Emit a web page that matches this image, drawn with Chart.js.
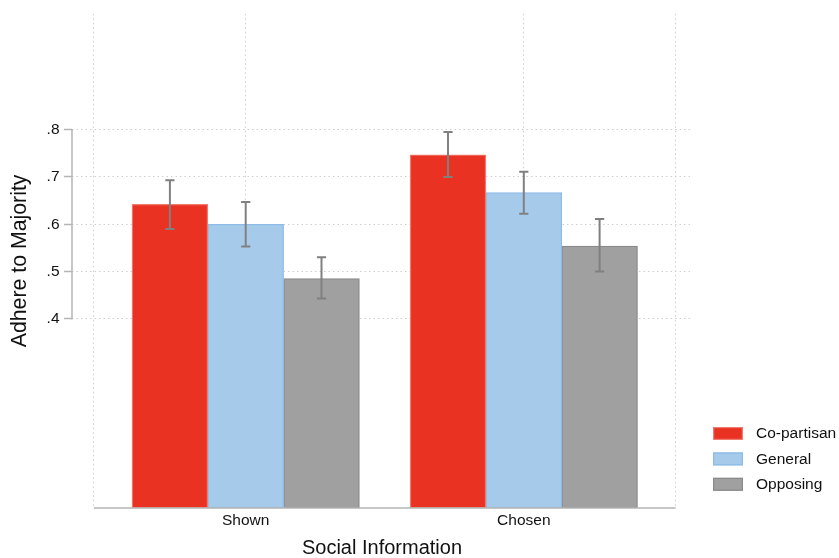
<!DOCTYPE html>
<html>
<head>
<meta charset="utf-8">
<script src="https://cdn.jsdelivr.net/npm/chart.js@4.4.1/dist/chart.umd.min.js"></script>
<style>
  html, body { margin: 0; padding: 0; background: #ffffff; }
  canvas { display: block; }
</style>
</head>
<body>
<canvas id="chart" width="839" height="558"></canvas>
<script>
// Share adhering to the majority, by social information source and type
const categories = ['Shown', 'Chosen'];
const seriesNames = ['Co-partisan', 'General', 'Opposing'];

const coPartisan = [0.642, 0.747];
const general    = [0.600, 0.667];
const opposing   = [0.485, 0.554];

// 95% confidence intervals
const coPartisanLow  = [0.590, 0.700];
const coPartisanHigh = [0.693, 0.795];
const generalLow     = [0.553, 0.622];
const generalHigh    = [0.647, 0.711];
const opposingLow    = [0.443, 0.500];
const opposingHigh   = [0.530, 0.611];

const yTicks = [0.4, 0.5, 0.6, 0.7, 0.8];

const fillColors   = ['#EA3223', '#A6CBEA', '#A0A0A0'];
const borderColors = ['#F07A6E', '#8DBBE6', '#8A8A8A'];
const FONT = '"Liberation Sans", Arial, Helvetica, sans-serif';
const AXIS_GRAY = '#b4b4b4';

const values = [coPartisan, general, opposing];
const lows = [coPartisanLow, generalLow, opposingLow];
const highs = [coPartisanHigh, generalHigh, opposingHigh];

const datasets = seriesNames.map((name, s) => ({
  label: name,
  data: values[s].map((v, i) => ({ x: i, y: v })),
  ciLow: lows[s],
  ciHigh: highs[s],
  backgroundColor: fillColors[s],
  borderColor: borderColors[s],
  borderWidth: 1.3,
  borderSkipped: false,
  barThickness: 75.8
}));

// Outer edges of the category axis (where the x axis line stops)
const X_EDGE_LO = -0.546, X_EDGE_HI = 1.546;

const decorations = {
  id: 'decorations',
  afterDatasetsDraw(chart) {
    const { ctx } = chart;
    const y = chart.scales.y;
    ctx.save();
    ctx.strokeStyle = '#808080';
    ctx.lineWidth = 2;
    chart.data.datasets.forEach((ds, di) => {
      const meta = chart.getDatasetMeta(di);
      meta.data.forEach((bar, i) => {
        const yl = y.getPixelForValue(ds.ciLow[i]);
        const yh = y.getPixelForValue(ds.ciHigh[i]);
        const cx = bar.x, cap = 4.6;
        ctx.beginPath();
        ctx.moveTo(cx, yl); ctx.lineTo(cx, yh);
        ctx.moveTo(cx - cap, yl); ctx.lineTo(cx + cap, yl);
        ctx.moveTo(cx - cap, yh); ctx.lineTo(cx + cap, yh);
        ctx.stroke();
      });
    });
    ctx.restore();
  },
  afterDraw(chart) {
    const { ctx, chartArea } = chart;
    const x = chart.scales.x, y = chart.scales.y;
    ctx.save();
    // y axis line spans only the labelled range
    ctx.strokeStyle = AXIS_GRAY;
    ctx.lineWidth = 1.5;
    ctx.beginPath();
    ctx.moveTo(chartArea.left, y.getPixelForValue(yTicks[0]) + 0.75);
    ctx.lineTo(chartArea.left, y.getPixelForValue(yTicks[yTicks.length - 1]) - 0.75);
    ctx.stroke();
    // x axis line
    ctx.beginPath();
    ctx.moveTo(x.getPixelForValue(X_EDGE_LO), chartArea.bottom);
    ctx.lineTo(x.getPixelForValue(X_EDGE_HI), chartArea.bottom);
    ctx.stroke();

    // legend
    const lx = chartArea.right + 21, rowGap = 25.4;
    const firstRow = chartArea.bottom - 74.5;
    ctx.font = '15.5px ' + FONT;
    ctx.textBaseline = 'middle';
    ctx.textAlign = 'left';
    seriesNames.forEach((name, s) => {
      const cy = firstRow + s * rowGap;
      ctx.fillStyle = fillColors[s];
      ctx.fillRect(lx, cy - 6.5, 30, 13);
      ctx.strokeStyle = borderColors[s];
      ctx.lineWidth = 1.2;
      ctx.strokeRect(lx + 0.6, cy - 5.9, 28.8, 11.8);
      ctx.fillStyle = '#111111';
      ctx.fillText(name, lx + 43, cy + 0.5);
    });
    ctx.restore();
  }
};

new Chart(document.getElementById('chart'), {
  type: 'bar',
  data: { datasets },
  plugins: [decorations],
  options: {
    responsive: false,
    animation: false,
    layout: { padding: { left: 0, right: 147, top: 9, bottom: 0 } },
    plugins: {
      legend: { display: false },
      tooltip: { enabled: false }
    },
    scales: {
      x: {
        type: 'linear',
        offset: false,
        min: -0.6246,
        max: 1.6048,
        afterFit(scale) { scale.height = 50; },
        afterBuildTicks(scale) {
          scale.ticks = [X_EDGE_LO, 0, 1, X_EDGE_HI].map(v => ({ value: v }));
        },
        ticks: {
          autoSkip: false,
          maxRotation: 0,
          padding: 3,
          color: '#111111',
          font: { family: FONT, size: 15.5 },
          callback: (v) => (Number.isInteger(v) ? categories[v] : '')
        },
        grid: {
          offset: false,
          color: '#cfcfcf',
          lineWidth: 1,
          drawTicks: false
        },
        border: { display: false, dash: [1.5, 3] },
        title: {
          display: true,
          text: 'Social Information',
          color: '#111111',
          font: { family: FONT, size: 20, lineHeight: 1 },
          padding: { top: 0, bottom: 0 }
        }
      },
      y: {
        min: 0,
        max: 1.045,
        afterFit(scale) { scale.width = 72; },
        afterBuildTicks(scale) {
          scale.ticks = yTicks.map(v => ({ value: v }));
        },
        ticks: {
          padding: 4.5,
          color: '#111111',
          font: { family: FONT, size: 15.5 },
          callback: (v) => v.toFixed(1).replace(/^0/, '')
        },
        grid: {
          color: '#cfcfcf',
          lineWidth: 1,
          drawTicks: true,
          tickLength: 8,
          tickColor: AXIS_GRAY,
          tickWidth: 1.5,
          tickBorderDash: []
        },
        border: { display: false, dash: [1.5, 3] },
        title: {
          display: true,
          text: 'Adhere to Majority',
          color: '#111111',
          font: { family: FONT, size: 21.3, lineHeight: 1 },
          padding: { top: 9.5, bottom: 0 }
        }
      }
    }
  }
});
</script>
</body>
</html>
